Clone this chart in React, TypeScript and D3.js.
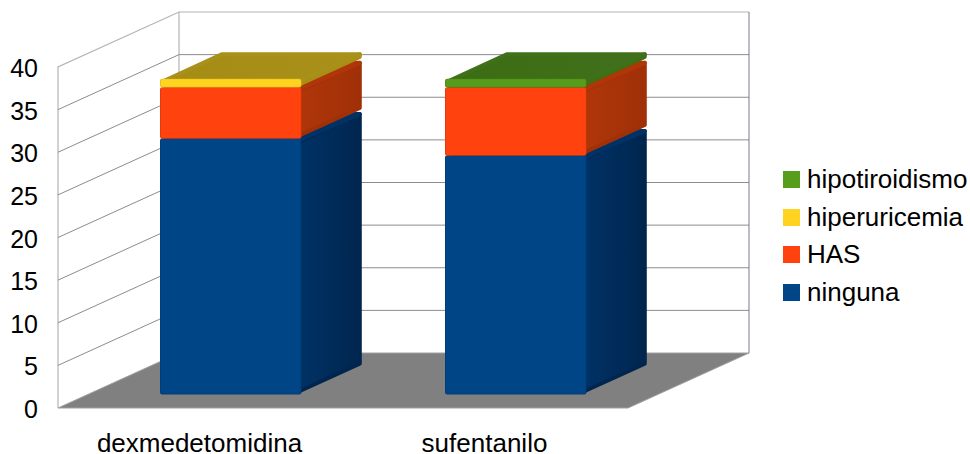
import React from "react";
import * as d3 from "d3";

const categories = ["dexmedetomidina", "sufentanilo"];
const seriesNames = ["ninguna", "HAS", "hiperuricemia", "hipotiroidismo"];
const ninguna = [30, 28];
const has = [6, 8];
const hiperuricemia = [1, 0];
const hipotiroidismo = [0, 1];
const yTicks = [0, 5, 10, 15, 20, 25, 30, 35, 40];

const frontColors = ["#004586", "#ff420e", "#ffd320", "#579d1c"];
const edgeColors = ["#003a72", "#d8380c", "#e0b81c", "#4a8818"];
const sideColors = [["#003266", "#00264f"], ["#b03609", "#a03008"], ["#a88f14", "#a88f14"], ["#3d6f13", "#3d6f13"]];
const topColors = [["#003266", "#003266"], ["#b03609", "#b03609"], ["#a58c14", "#a8901a"], ["#3c6c12", "#40701a"]];

const FONT = "'Liberation Sans', Arial, sans-serif";

const rows = categories.map((c, i) => ({
  category: c,
  ninguna: ninguna[i],
  HAS: has[i],
  hiperuricemia: hiperuricemia[i],
  hipotiroidismo: hipotiroidismo[i],
}));

// Oblique projection: depth 0 is the front floor edge, depth 1 the back wall.
const xBand = d3.scaleBand<string>().domain(categories).range([58, 628]).paddingInner(0).paddingOuter(0);
const yVal = d3.scaleLinear().domain([0, 40]).range([408, 67]);
const depthX = d3.scaleLinear().domain([0, 1]).range([0, 121]);
const depthY = d3.scaleLinear().domain([0, 1]).range([0, -55]);
const project = (x: number, v: number, d: number): [number, number] => [x + depthX(d), yVal(v) + depthY(d)];
const polygon = d3.line();

const stacked = d3.stack<any>().keys(seriesNames)(rows);

// Polygon whose corners are softened by a thick round-joined stroke.
function Face({ pts, fill, stroke, edge }: { pts: [number, number][]; fill: string; stroke: string; edge?: string }) {
  const d = polygon(pts) + "Z";
  return (
    <g>
      {edge && <path d={d} fill="none" stroke={edge} strokeWidth={4.4} strokeLinejoin="round" />}
      <path d={d} fill={fill} stroke={stroke} strokeWidth={edge ? 3 : 4} strokeLinejoin="round" />
    </g>
  );
}

export default function App() {
  const x0 = xBand.range()[0];
  const x1 = xBand.range()[1];
  const barFrac = 0.495;
  const bw = xBand.bandwidth();
  const dFront = 0.25;
  const dBack = 0.75;
  const legendOrder = [3, 2, 1, 0];
  const legendY = [171, 209, 246, 284];

  return (
    <svg width={970} height={454} style={{ position: "absolute", left: 0, top: 0, background: "#fff" }}>
      <defs>
        {sideColors.map((c, i) => (
          <linearGradient key={i} id={`side${i}`} x1="0" x2="1" y1="0" y2="0">
            <stop offset="0" stopColor={c[0]} />
            <stop offset="1" stopColor={c[1]} />
          </linearGradient>
        ))}
        {topColors.map((c, i) => (
          <linearGradient key={i} id={`top${i}`} x1="0" x2="1" y1="0" y2="0">
            <stop offset="0" stopColor={c[0]} />
            <stop offset="1" stopColor={c[1]} />
          </linearGradient>
        ))}
      </defs>

      {/* Floor */}
      <path
        d={polygon([project(x0, 0, 0), project(x1, 0, 0), project(x1, 0, 1), project(x0, 0, 1)]) + "Z"}
        fill="#808080"
        stroke="#a0a0a0"
        strokeWidth={1}
      />

      {/* Wall outlines */}
      <path
        d={polygon([project(x0, 0, 0), project(x0, 40, 0), project(x0, 40, 1), project(x1, 40, 1)])!}
        fill="none"
        stroke="#b4b4b4"
        strokeWidth={1.2}
      />
      <path d={polygon([project(x0, 0, 1), project(x0, 40, 1)])!} fill="none" stroke="#b4b4b4" strokeWidth={1.2} />

      {/* Grid lines along the side wall and back wall */}
      {yTicks.slice(1, -1).map((t) => (
        <path
          key={t}
          d={polygon([project(x0, t, 0), project(x0, t, 1), project(x1, t, 1)])!}
          fill="none"
          stroke="#8c8c8c"
          strokeWidth={1}
        />
      ))}
      <path d={polygon([project(x1, 0, 1), project(x1, 40, 1)])!} fill="none" stroke="#7a7a8a" strokeWidth={1} />

      {/* Stacked bars */}
      {categories.map((cat, ci) => {
        const left = xBand(cat)! + (bw * (1 - barFrac)) / 2;
        const right = left + bw * barFrac;
        return (
          <g key={cat}>
            {stacked.map((layer, si) => {
              const [lo, hi] = layer[ci];
              if (hi === lo) return null;
              const fl = project(left, lo, dFront);
              const fr = project(right, lo, dFront);
              const tl = project(left, hi, dFront);
              const tr = project(right, hi, dFront);
              const br = project(right, lo, dBack);
              const trb = project(right, hi, dBack);
              const tlb = project(left, hi, dBack);
              const inset = (p: [number, number], dx: number, dy: number): [number, number] => [p[0] + dx, p[1] + dy];
              return (
                <g key={si}>
                  <Face
                    pts={[inset(fr, -2, -3), inset(tr, -2, 3), inset(trb, -2, 3), inset(br, -2, -3)]}
                    fill={`url(#side${si})`}
                    stroke={sideColors[si][1]}
                  />
                  <Face
                    pts={[inset(tl, 4, 2), inset(tr, -2, 2), inset(trb, -2, 3), inset(tlb, 1, 3)]}
                    fill={`url(#top${si})`}
                    stroke={topColors[si][1]}
                  />
                  <Face
                    pts={[inset(fl, 2, -2), inset(fr, -2, -2), inset(tr, -2, 2), inset(tl, 2, 2)]}
                    fill={frontColors[si]}
                    stroke={frontColors[si]}
                    edge={edgeColors[si]}
                  />
                </g>
              );
            })}
          </g>
        );
      })}

      {/* Value axis labels */}
      {yTicks.map((t) => (
        <text key={t} x={38} y={yVal(t) + 10} textAnchor="end" fontFamily={FONT} fontSize={25} fill="#000">
          {t}
        </text>
      ))}

      {/* Category labels */}
      {categories.map((c) => (
        <text
          key={c}
          x={xBand(c)! + bw / 2 - 1}
          y={452}
          textAnchor="middle"
          fontFamily={FONT}
          fontSize={26}
          fill="#000"
        >
          {c}
        </text>
      ))}

      {/* Legend */}
      {legendOrder.map((si, i) => (
        <g key={si}>
          <rect x={783} y={legendY[i]} width={17} height={17} fill={frontColors[si]} />
          <text x={807} y={legendY[i] + 17} fontFamily={FONT} fontSize={26} fill="#000">
            {seriesNames[si]}
          </text>
        </g>
      ))}
    </svg>
  );
}
